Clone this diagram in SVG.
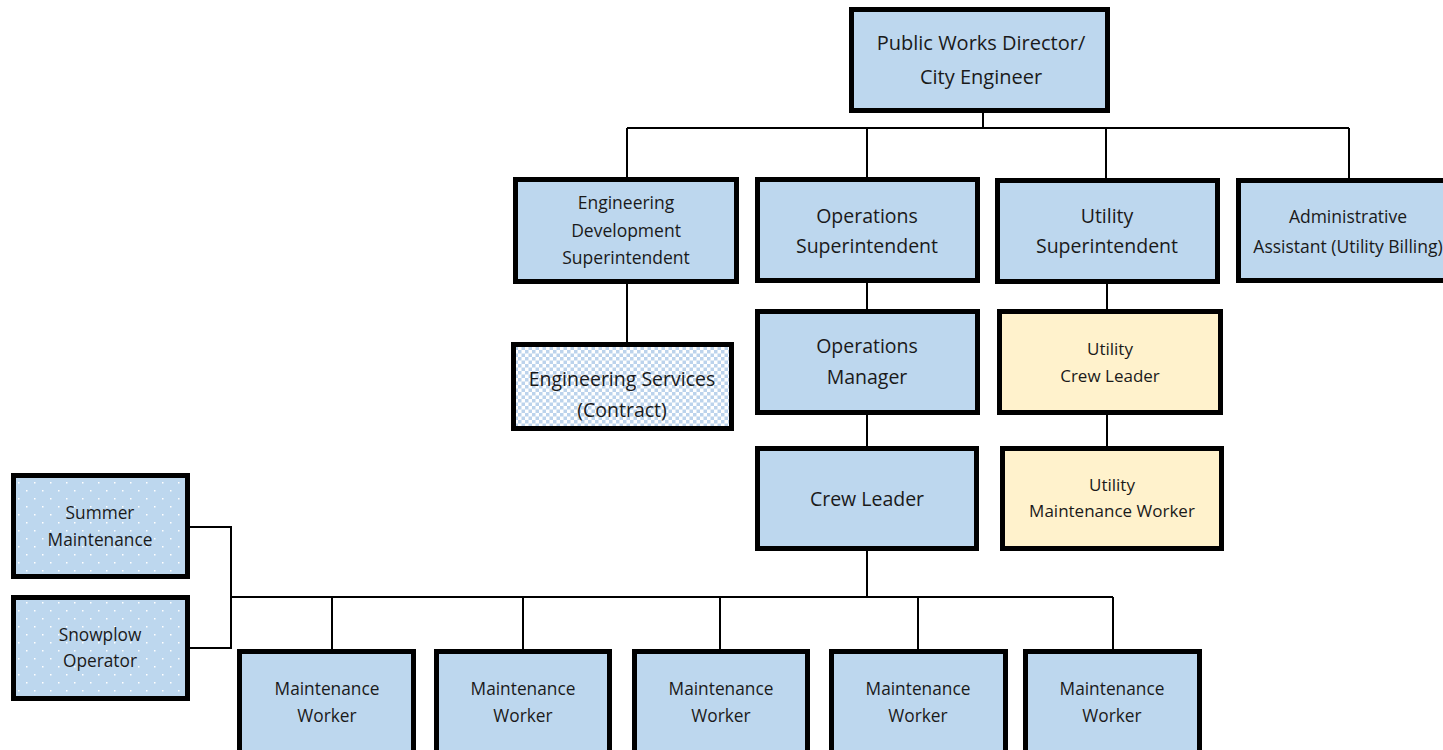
<svg xmlns="http://www.w3.org/2000/svg" width="1443" height="750" viewBox="0 0 1443 750">
<style>
.box{stroke:#000;stroke-width:5}
.blue{fill:#BDD7EE}
.yellow{fill:#FFF2CC}
.t{font-family:"Open Sans","Liberation Sans",sans-serif;fill:#1a1a1a;text-anchor:middle}
.conn{fill:none;stroke:#000;stroke-width:2}
</style>
<defs>
<pattern id="checker" width="7" height="7" patternUnits="userSpaceOnUse">
<rect width="7" height="7" fill="#fff"/>
<rect x="0" y="0" width="3.5" height="3.5" fill="#BCD3EC"/>
<rect x="3.5" y="3.5" width="3.5" height="3.5" fill="#BCD3EC"/>
</pattern>
<pattern id="dots" width="16" height="16" patternUnits="userSpaceOnUse">
<rect width="16" height="16" fill="#BDD7EE"/>
<rect x="2" y="2" width="1.5" height="1.5" fill="#fff"/>
<rect x="10" y="10" width="1.5" height="1.5" fill="#fff"/>
</pattern>
</defs>
<rect width="1443" height="750" fill="#fff"/>
<g id="connectors">
<path class="conn" d="M983 113V128M627 128H1349M627 128V177M867 128V177M1106 128V178M1349 128V178"/>
<path class="conn" d="M627 284V342"/>
<path class="conn" d="M867 283V309M867 415V446M867 551V597"/>
<path class="conn" d="M1107 284V309M1107 415V446"/>
<path class="conn" d="M231 597H1113M332 597V649M523 597V649M720 597V649M918 597V649M1113 597V649"/>
<path class="conn" d="M190 527H231V648H190"/>
</g>
<g id="director">
<rect class="box blue" x="851.5" y="9.5" width="256" height="101"/>
<text class="t" x="981" y="50" font-size="20">Public Works Director/</text>
<text class="t" x="981" y="84" font-size="20">City Engineer</text>
</g>
<g id="eng-dev">
<rect class="box blue" x="515.5" y="179.5" width="221" height="102"/>
<text class="t" x="626" y="209" font-size="17.5">Engineering</text>
<text class="t" x="626" y="237" font-size="17.5">Development</text>
<text class="t" x="626" y="264" font-size="17.5">Superintendent</text>
</g>
<g id="ops-super">
<rect class="box blue" x="757.5" y="179.5" width="220" height="101"/>
<text class="t" x="867" y="223" font-size="19.5">Operations</text>
<text class="t" x="867" y="253" font-size="19.5">Superintendent</text>
</g>
<g id="util-super">
<rect class="box blue" x="997.5" y="180.5" width="220" height="101"/>
<text class="t" x="1107" y="223" font-size="19.5">Utility</text>
<text class="t" x="1107" y="253" font-size="19.5">Superintendent</text>
</g>
<g id="admin">
<rect class="box blue" x="1238.5" y="180.5" width="221" height="100"/>
<text class="t" x="1348" y="223" font-size="17.5">Administrative</text>
<text class="t" x="1348" y="253" font-size="17.5">Assistant (Utility Billing)</text>
</g>
<g id="eng-services">
<rect class="box" fill="url(#checker)" x="513.5" y="344.5" width="218" height="84"/>
<text class="t" x="622" y="386" font-size="19.5">Engineering Services</text>
<text class="t" x="622" y="417" font-size="19.5">(Contract)</text>
</g>
<g id="ops-manager">
<rect class="box blue" x="757.5" y="311.5" width="220" height="101"/>
<text class="t" x="867" y="353" font-size="19.5">Operations</text>
<text class="t" x="867" y="384" font-size="19.5">Manager</text>
</g>
<g id="util-crew-leader">
<rect class="box yellow" x="999.5" y="311.5" width="221" height="101"/>
<text class="t" x="1110" y="355" font-size="17">Utility</text>
<text class="t" x="1110" y="382" font-size="17">Crew Leader</text>
</g>
<g id="util-maint-worker">
<rect class="box yellow" x="1002.5" y="448.5" width="219" height="100"/>
<text class="t" x="1112" y="491" font-size="17">Utility</text>
<text class="t" x="1112" y="517" font-size="17">Maintenance Worker</text>
</g>
<g id="crew-leader">
<rect class="box blue" x="757.5" y="448.5" width="219" height="100"/>
<text class="t" x="867" y="506" font-size="19.5">Crew Leader</text>
</g>
<g id="summer">
<rect class="box" fill="url(#dots)" x="13.5" y="475.5" width="174" height="101"/>
<text class="t" x="100" y="519" font-size="17.3">Summer</text>
<text class="t" x="100" y="546" font-size="17.3">Maintenance</text>
</g>
<g id="snowplow">
<rect class="box" fill="url(#dots)" x="13.5" y="597.5" width="174" height="101"/>
<text class="t" x="100" y="641" font-size="17.3">Snowplow</text>
<text class="t" x="100" y="667" font-size="17.3">Operator</text>
</g>
<g id="mw1">
<rect class="box blue" x="239.5" y="651.5" width="174" height="110"/>
<text class="t" x="327" y="695" font-size="17.3">Maintenance</text>
<text class="t" x="327" y="722" font-size="17.3">Worker</text>
</g>
<g id="mw2">
<rect class="box blue" x="436.5" y="651.5" width="173" height="110"/>
<text class="t" x="523" y="695" font-size="17.3">Maintenance</text>
<text class="t" x="523" y="722" font-size="17.3">Worker</text>
</g>
<g id="mw3">
<rect class="box blue" x="634.5" y="651.5" width="173" height="110"/>
<text class="t" x="721" y="695" font-size="17.3">Maintenance</text>
<text class="t" x="721" y="722" font-size="17.3">Worker</text>
</g>
<g id="mw4">
<rect class="box blue" x="831.5" y="651.5" width="174" height="110"/>
<text class="t" x="918" y="695" font-size="17.3">Maintenance</text>
<text class="t" x="918" y="722" font-size="17.3">Worker</text>
</g>
<g id="mw5">
<rect class="box blue" x="1025.5" y="651.5" width="174" height="110"/>
<text class="t" x="1112" y="695" font-size="17.3">Maintenance</text>
<text class="t" x="1112" y="722" font-size="17.3">Worker</text>
</g>
</svg>
